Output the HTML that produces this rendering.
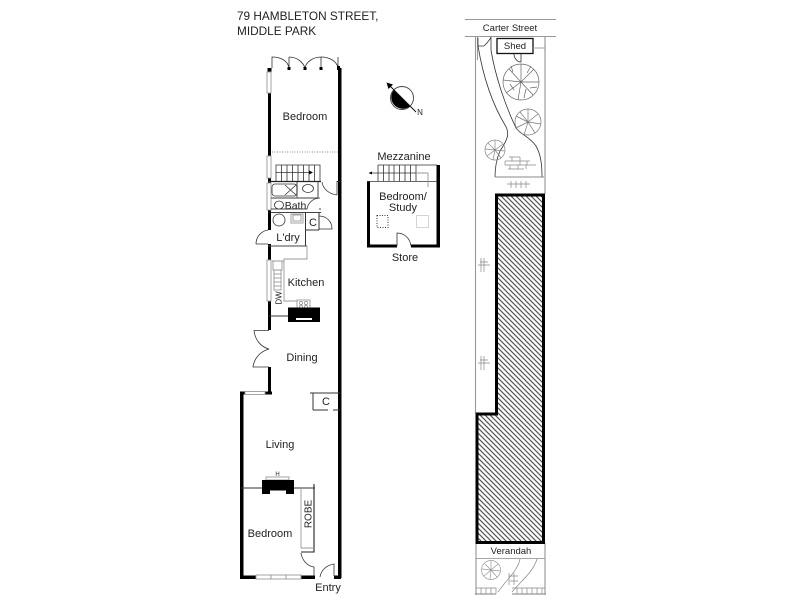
<!DOCTYPE html>
<html><head><meta charset="utf-8"><style>
html,body{margin:0;padding:0;background:#fff;width:800px;height:600px;overflow:hidden}
svg{display:block;filter:blur(.35px)}
text{font-family:"Liberation Sans",sans-serif;font-size:11px;fill:#222;text-anchor:middle}
.k{fill:#000;stroke:none}
.t{fill:none;stroke:#333;stroke-width:.8}
.g{fill:none;stroke:#999;stroke-width:.9}
.w{fill:#fff;stroke:#999;stroke-width:.9}
.d{fill:none;stroke:#888;stroke-width:.7}
</style></head><body>
<svg width="800" height="600" viewBox="0 0 800 600" xmlns="http://www.w3.org/2000/svg">
<defs><pattern id="h" width="5" height="5" patternUnits="userSpaceOnUse"><path d="M-1.250 -1.250L6.250 6.250M-1.250 3.750L1.250 6.250M3.750 -1.250L6.250 1.250" stroke="#555" stroke-width="1.200"/></pattern></defs>
<text x="237" y="20" style="font-size:11.800px;text-anchor:start">79 HAMBLETON STREET,</text>
<text x="237" y="35" style="font-size:11.800px;text-anchor:start">MIDDLE PARK</text>

<!-- main house walls -->
<rect class="k" x="338" y="68" width="3.5" height="510"/>
<rect class="k" x="267.500" y="68" width="4" height="4"/>
<rect class="k" x="268" y="93" width="3" height="63"/>
<rect class="k" x="268" y="178" width="3" height="5"/>
<rect class="k" x="268" y="210" width="3" height="20"/>
<rect class="k" x="268" y="244" width="3" height="16"/>
<rect class="k" x="268" y="301" width="3" height="29"/>
<rect class="k" x="268" y="367" width="3" height="27"/>
<rect class="k" x="240" y="392" width="3.500" height="186"/>
<rect class="k" x="240" y="391.500" width="5" height="3"/>
<rect class="k" x="265" y="391.500" width="7" height="3"/>
<rect class="k" x="240" y="575.500" width="16" height="3.500"/>
<rect class="k" x="301" y="575.500" width="14" height="3.500"/>
<rect class="k" x="334" y="575.500" width="7" height="3.500"/>
<rect class="w" x="267" y="72" width="4" height="21"/>
<rect class="w" x="267" y="156" width="4" height="22"/>
<rect class="w" x="267" y="183" width="4" height="27"/>
<rect class="w" x="267" y="260" width="4" height="41"/>
<rect class="w" x="245" y="391.500" width="20" height="3"/>
<rect class="w" x="256" y="575" width="15" height="4"/><rect class="w" x="271" y="575" width="15" height="4"/><rect class="w" x="286" y="575" width="15" height="4"/>

<!-- french doors -->
<path class="t" d="M272 68V57C281 57 288 61 289 68M289 68V57M305 68C303 62 297 57 289 57M305 68C306 62 313 57 321 57M321 68V57C329 57 337 61 338 68M338 68V57H338"/>
<rect class="k" x="287.500" y="67" width="3" height="3"/><rect class="k" x="303.500" y="67" width="3" height="3"/><rect class="k" x="319.500" y="67" width="3" height="3"/><rect class="k" x="337" y="66" width="3" height="4"/>
<text x="305" y="120">Bedroom</text>
<path d="M272 152H338" stroke="#888" stroke-width="1" stroke-dasharray="1 1.500" fill="none"/>

<!-- stairs -->
<path class="t" d="M276 181V165H320V181M281.500 165V181M287 165V181M292.500 165V181M298 165V181M303.500 165V181M309 165V181M314.500 165V181M276 172.500H310"/>
<path class="k" d="M309 170.500L313 172.500L309 174.500Z"/>
<path d="M268 181.500H321" stroke="#222" stroke-width="1.300"/>

<!-- bathroom -->
<path d="M271 198H297M297 182V198H318V182" stroke="#666" stroke-width="1.200" fill="none"/>
<rect class="t" x="272" y="184" width="25" height="12" rx="3"/>
<path class="t" d="M285 185L296 195M296 185L285 195"/>
<ellipse class="t" cx="308" cy="188.500" rx="5.500" ry="4"/>
<path class="t" d="M322 182C323 189 329 194 337 195M337 181V195"/>
<path d="M337 181.500H340" stroke="#222"/>
<ellipse class="t" cx="279" cy="205" rx="4.500" ry="4"/>
<text x="295.500" y="209" style="font-size:10.500px">Bath</text>
<path class="t" d="M307 209C308 203 313 198 320 198"/>
<path d="M271 209H307M319 209H321M271 212.500H321" stroke="#444" stroke-width="1"/>

<!-- laundry -->
<circle class="t" cx="279" cy="220" r="6"/>
<rect class="g" x="291" y="214" width="12" height="9"/>
<rect class="g" x="293" y="215" width="8" height="6"/>
<path d="M305.500 212V246M305.500 230H319M319 212V230" stroke="#333" stroke-width="1" fill="none"/>
<path class="t" d="M319 216C326 216 332 221 332 229H319"/>
<text x="313" y="226">C</text>
<text x="288" y="241">L'dry</text>
<path d="M268 246H307" stroke="#444" stroke-width="1"/>
<path class="t" d="M256 244C256 237 261 231 268 230M256 244H268"/>

<!-- kitchen -->
<path class="g" d="M307 246V259H284V301H297M272 261H284"/>
<rect class="g" x="273" y="261" width="9" height="9"/>
<rect class="g" x="274" y="270" width="7" height="20"/>
<path class="d" d="M274 274H281M274 278H281M274 282H281M274 286H281"/>
<text x="278.500" y="298" transform="rotate(-90 278.500 298)" style="font-size:8px" dy="3">DW</text>
<text x="306" y="286">Kitchen</text>
<rect class="g" x="297" y="300" width="13" height="10"/>
<circle class="d" cx="301" cy="303" r="1.600"/><circle class="d" cx="306" cy="303" r="1.600"/><circle class="d" cx="301" cy="307" r="1.600"/><circle class="d" cx="306" cy="307" r="1.600"/>
<rect class="k" x="288" y="307.500" width="32" height="14.500"/>
<rect x="296" y="318" width="16" height="2" fill="#fff"/>
<path d="M269 316H288" stroke="#333" stroke-width="1"/>

<!-- dining -->
<path class="t" d="M269 330.500H254C255 340 261 347 269 349C261 351 254 358 253 367H269"/>
<text x="302" y="361">Dining</text>
<path d="M310 393H340M313 393V410M313 410H328M333 410H340" stroke="#333" stroke-width="1" fill="none"/>
<text x="326" y="405">C</text>

<!-- living -->
<text x="280" y="448">Living</text>
<text x="277.500" y="476" style="font-size:6px">H</text>
<rect class="g" x="266" y="477" width="23" height="3"/>
<rect class="k" x="262" y="480" width="32" height="14"/>
<rect x="270" y="490.500" width="16" height="3.500" fill="#fff"/>
<path d="M241 488H262M294 488H315" stroke="#333" stroke-width="1.100"/>

<!-- lower bedroom -->
<text x="270" y="537">Bedroom</text>
<path d="M314 484V552H301" stroke="#222" stroke-width="1.100" fill="none"/>
<path class="g" d="M301 488V548H314"/>
<text x="308" y="514" transform="rotate(-90 308 514)" dy="3.500" style="font-size:10px">ROBE</text>
<path class="t" d="M301 553C302 560 307 566 314 567V576"/>
<path class="t" d="M320 577C321 570 327 565 334 564V576"/>
<text x="328" y="591">Entry</text>

<!-- compass -->
<circle cx="402" cy="98" r="11.500" fill="#fff" stroke="#444" stroke-width=".9"/>
<path class="k" d="M393.900 89.900A11.500 11.500 0 0 0 410.100 106.100Z"/>
<path d="M388 84L416 112" stroke="#111" stroke-width="1"/>
<path class="k" d="M386.500 82.500L393 84.500L388.500 89Z"/>
<text x="420" y="115" style="font-size:8px">N</text>

<!-- mezzanine -->
<text x="404" y="160">Mezzanine</text>
<rect class="k" x="436.500" y="165" width="3.500" height="81"/>
<rect class="k" x="367" y="181" width="3" height="66"/>
<rect class="k" x="367" y="244.500" width="30" height="3"/>
<rect class="k" x="411" y="244.500" width="29" height="3"/>
<path class="t" d="M378 165H437M378 165V181M383.500 165V181M389 165V181M394 165V181M399.500 165V181M405 165V181M410.500 165V181M416 165V181M367 181.500H437M372 173H416"/>
<path class="g" d="M416 173H428V187"/>
<path class="k" d="M372 171.500L368.500 173L372 174.500Z"/>
<text x="403" y="200">Bedroom/</text>
<text x="403" y="211">Study</text>
<rect x="377" y="215.500" width="11" height="12" fill="none" stroke="#333" stroke-width="1" stroke-dasharray="1 1.500"/>
<rect x="416.500" y="215.500" width="12" height="12" fill="none" stroke="#aaa" stroke-width="1" stroke-dasharray="1 1"/>
<path class="t" d="M397 246V233C404 233 410 238 411 246"/>
<text x="405" y="261">Store</text>

<!-- site -->
<path d="M465 19.500H556M465 36.500H556" stroke="#777" stroke-width=".8"/>
<text x="510" y="31" style="font-size:9.500px">Carter Street</text>
<path d="M475.500 37V413M477.500 37V60" stroke="#999" stroke-width="1.100"/>
<path d="M545 37V194M545 543V595M476 543V595" stroke="#888" stroke-width="1"/>
<path class="t" d="M478 38V46H484C487 43 490 40 491 37"/>
<path class="t" d="M478 46C482 70 490 100 505 125C510 133 508 139 500 151C497 158 495 167 495 177"/>
<path class="t" d="M491 37V50C495 75 505 105 516 128C520 134 530 137 536 146C541 155 542 165 542 177"/>
<path d="M495 177H544" stroke="#888" stroke-width=".9"/>
<rect x="497" y="38.500" width="36" height="15" fill="#fff" stroke="#111" stroke-width="1.300"/>
<text x="515" y="49" style="font-size:9.500px">Shed</text>
<path class="t" d="M521 54V62C517 62 514 58 514 54"/>
<path class="g" d="M533 48H545"/>

<!-- trees -->
<g class="d" fill="none" stroke="#666">
<circle cx="521" cy="82" r="18" stroke="#666"/><path stroke="#666" d="M521 82L521 64M521 82L534 69M521 82L539 82M521 82L533 95M521 82L518 100M521 82L506 93M521 82L503 80M521 82L509 69M513 72L511 66M530 88L537 87M514 90L510 84M527 73L531 66M526 89L524 98"/>
<circle cx="528" cy="122" r="13" stroke="#777"/><path stroke="#777" d="M528 122L528 109M528 122L538 114M528 122L541 124M528 122L535 133M528 122L524 135M528 122L516 128M528 122L516 116M528 122L520 112"/>
<circle cx="495" cy="150" r="10" stroke="#888"/><path stroke="#888" d="M495 150L495 140M495 150L503 144M495 150L505 151M495 150L501 158M495 150L493 160M495 150L487 156M495 150L485 149M495 150L488 143"/>
<circle cx="491" cy="570" r="9.500" stroke="#999"/><path stroke="#999" d="M491 570L491 561M491 570L498 564M491 570L500 571M491 570L497 577M491 570L490 579M491 570L484 576M491 570L482 569M491 570L485 564"/>
</g>
<!-- bricks -->
<path class="d" stroke="#555" d="M509 157H520M505 161H530M505 161V165M512 157V161M520 157V165M527 161V165M505 165H536M510 165V169M518 165V169M526 165V169M508 169H524"/>
<path class="d" stroke="#555" d="M507 184H530M511 181V188M516 181V188M521 181V188M526 181V188"/>
<path class="d" stroke="#666" d="M478 265H490M480 262H488M484 258V272M481 258V272"/>
<path class="d" stroke="#666" d="M478 363H490M480 360H488M484 356V370M481 356V370"/>

<!-- building -->
<path d="M496.500 195H543.500V542.500H477V414H496.500Z" fill="url(#h)" stroke="#000" stroke-width="3"/>

<!-- verandah -->
<text x="511" y="554" style="font-size:9.500px">Verandah</text>
<path d="M476 558.500H545" stroke="#888" stroke-width=".8"/>
<path class="d" d="M520 559C518 570 508 578 498 592M537 559C533 572 522 580 512 592"/>
<path class="d" stroke="#666" d="M509 576H518M510 581H518M509 573V585M514 573V585"/>
<path d="M475 594H496M512 594H546" stroke="#999" stroke-width="1.300"/>
<path class="d" d="M476 588H496V594M476 588V594M481 588V594M486 588V594M491 588V594M512 588H545M517 588V594M522 588V594M527 588V594M532 588V594M537 588V594M542 588V594"/>
</svg>
</body></html>
